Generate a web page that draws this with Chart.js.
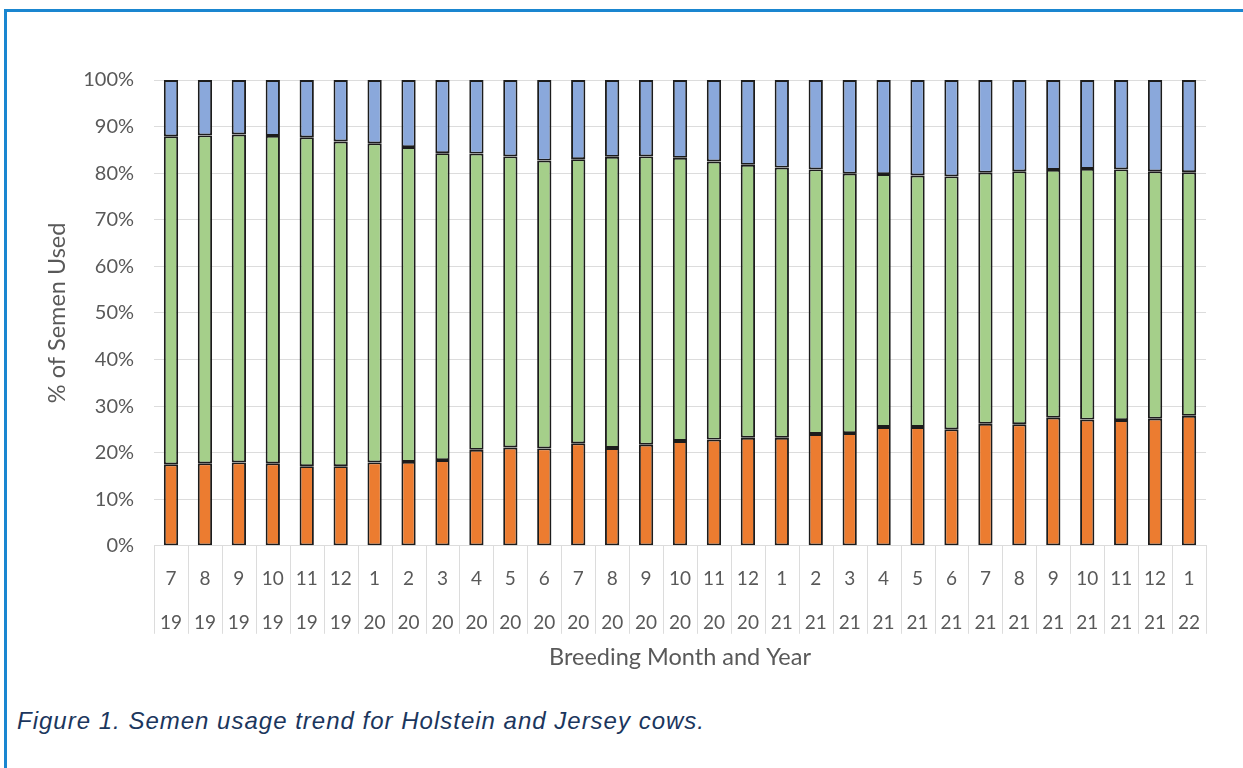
<!DOCTYPE html>
<html>
<head>
<meta charset="utf-8">
<title>Semen usage trend</title>
<script src="https://cdn.jsdelivr.net/npm/chart.js@4.4.1/dist/chart.umd.min.js"></script>
<style>
  html, body { margin: 0; padding: 0; background: #fff; }
  body { width: 1243px; height: 768px; position: relative; overflow: hidden; }
  .frame {
    position: absolute; left: 4px; top: 9px; width: 1300px; height: 800px;
    border-left: 3px solid #1a86d0; border-top: 3px solid #1a86d0;
  }
  .chart-box { position: absolute; left: 0; top: 0; width: 1243px; height: 690px; }
  .caption {
    position: absolute; left: 17px; top: 707px;
    font-family: "Liberation Sans", Arial, sans-serif; font-style: italic;
    font-size: 24px; letter-spacing: 1px; color: #1b365d; white-space: nowrap;
  }
</style>
</head>
<body>
<div class="frame"></div>
<div class="chart-box"><canvas id="usageChart"></canvas></div>
<div class="caption">Figure 1. Semen usage trend for Holstein and Jersey cows.</div>

<script>
// Breeding month / year for each bar
const months = ["7","8","9","10","11","12","1","2","3","4","5","6","7","8","9","10","11","12",
  "1","2","3","4","5","6","7","8","9","10","11","12","1"];
const years = ["19","19","19","19","19","19","20","20","20","20","20","20","20","20","20","20","20","20",
  "21","21","21","21","21","21","21","21","21","21","21","21","22"];

// Share of semen used (%), bottom to top of each bar
const orangeShare = [17.5, 17.7, 17.9, 17.7, 17.1, 17.1, 17.9, 18.0, 18.4, 20.6, 21.1, 20.9, 22.0, 21.0, 21.7, 22.5,
  22.8, 23.2, 23.2, 24.0, 24.2, 25.5, 25.5, 25.0, 26.2, 26.1, 27.5, 27.1, 27.0, 27.3, 27.9];
const greenShare = [70.4, 70.4, 70.4, 70.3, 70.6, 69.7, 68.5, 67.6, 65.9, 63.6, 62.5, 61.8, 61.0, 62.5, 61.9, 60.8,
  59.7, 58.6, 58.0, 56.8, 55.7, 54.3, 54.0, 54.3, 53.9, 54.3, 53.2, 53.8, 53.8, 53.1, 52.3];
const blueShare = [12.1, 11.9, 11.7, 12.0, 12.3, 13.2, 13.6, 14.4, 15.7, 15.8, 16.4, 17.3, 17.0, 16.5, 16.4, 16.7,
  17.5, 18.2, 18.8, 19.2, 20.1, 20.2, 20.5, 20.7, 19.9, 19.6, 19.3, 19.1, 19.2, 19.6, 19.8];

const yTicks = [0, 10, 20, 30, 40, 50, 60, 70, 80, 90, 100];

const labels = months.map((m, i) => [m, years[i]]);
const axisGrey = "#595959";
const lineGrey = "#dcdcdc";

// Vertical dividers between category labels, below the x axis
const categoryDividers = {
  id: "categoryDividers",
  afterDraw(chart) {
    const x = chart.scales.x;
    const ctx = chart.ctx;
    ctx.save();
    ctx.strokeStyle = lineGrey;
    ctx.lineWidth = 1;
    ctx.beginPath();
    for (let i = 0; i <= labels.length; i++) {
      const px = Math.round(x.getPixelForValue(i - 0.5)) + 0.5;
      ctx.moveTo(px, x.top);
      ctx.lineTo(px, x.top + 88);
    }
    ctx.stroke();
    ctx.restore();
  },
};

function seriesStyle(color) {
  return {
    backgroundColor: color,
    borderColor: "#1c1c1c",
    borderWidth: 1.9,
    borderSkipped: false,
    barPercentage: 0.42,
    categoryPercentage: 1.0,
  };
}

new Chart(document.getElementById("usageChart"), {
  type: "bar",
  data: {
    labels: labels,
    datasets: [
      { label: "Series 1", data: orangeShare, ...seriesStyle("#ec7c30") },
      { label: "Series 2", data: greenShare, ...seriesStyle("#a5cf8a") },
      { label: "Series 3", data: blueShare, ...seriesStyle("#8aa8db") },
    ],
  },
  plugins: [categoryDividers],
  options: {
    responsive: true,
    maintainAspectRatio: false,
    animation: false,
    layout: { padding: { left: 43, right: 37, top: 80, bottom: 15 } },
    plugins: {
      legend: { display: false },
      tooltip: { enabled: false },
    },
    scales: {
      x: {
        stacked: true,
        grid: { display: false },
        border: { display: true, color: lineGrey },
        ticks: {
          color: axisGrey,
          padding: 3,
          maxRotation: 0,
          autoSkip: false,
          font: { family: "Lato", size: 19, lineHeight: 44 / 19 },
        },
        title: {
          display: true,
          text: "Breeding Month and Year",
          color: axisGrey,
          font: { family: "Lato", size: 23.5 },
          padding: { top: -4, bottom: 3 },
        },
      },
      y: {
        stacked: true,
        min: 0,
        max: 100,
        afterBuildTicks: (scale) => {
          scale.ticks = yTicks.map((v) => ({ value: v }));
        },
        grid: { color: lineGrey, drawTicks: false },
        border: { display: false },
        ticks: {
          color: axisGrey,
          padding: 20,
          font: { family: "Lato", size: 20 },
          callback: (value) => value + "%",
        },
        title: {
          display: true,
          text: "% of Semen Used",
          color: axisGrey,
          font: { family: "Lato", size: 23.5 },
          padding: { top: 0, bottom: -8 },
        },
      },
    },
  },
});
</script>
</body>
</html>
